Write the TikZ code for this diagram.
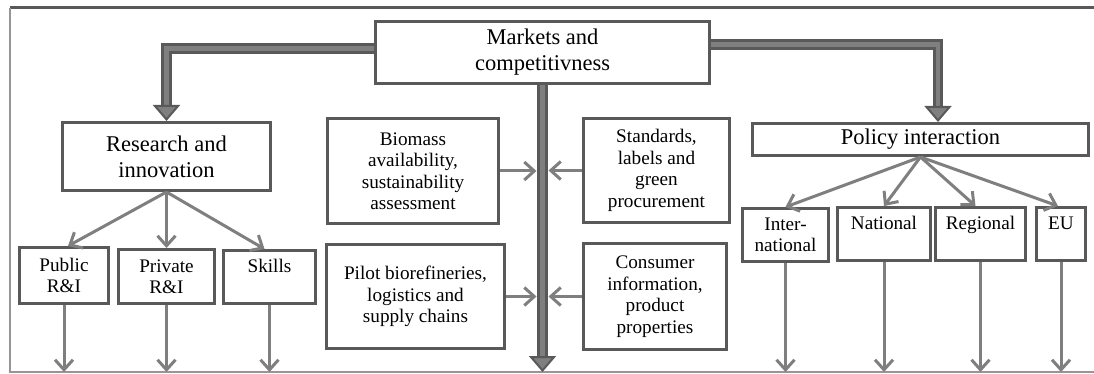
\documentclass[tikz,border=0pt]{standalone}
\usepackage{fontspec}
\setmainfont{Liberation Serif}
\usetikzlibrary{arrows.meta,positioning,calc}
\definecolor{boxGray}{RGB}{89,89,89}
\definecolor{arrowGray}{RGB}{127,127,127}
\definecolor{frameGray}{RGB}{150,150,150}
\tikzset{
  bigbox/.style={draw=boxGray, line width=3pt, fill=white, align=center, inner sep=2pt, font=\fontsize{22.5}{26}\selectfont},
  smallbox/.style={draw=boxGray, line width=3pt, fill=white, align=center, inner sep=2pt, font=\fontsize{19.2}{21.5}\selectfont},
  arrow/.style={-{Straight Barb[length=10pt,width=18pt]}, line width=3pt, draw=arrowGray},
  trunk/.style={draw=boxGray, line width=3pt, double=arrowGray, double distance=4.5pt, -{Triangle[length=16pt,width=27pt,line width=2pt,fill=arrowGray]}}
}

\begin{document}
\begin{tikzpicture}[x=1pt,y=-1pt]
  \useasboundingbox (0,0) rectangle (1094,374);
  % outer frame, open on the right
  \draw[boxGray, line width=3pt] (10,8) -- (1094,8);
  \draw[frameGray, line width=2pt] (10,8) -- (10,372) -- (1094,372);
  \coordinate (base) at (0,372);

  \node[bigbox, minimum width=334, minimum height=62] (markets) at (542.5,52.5) {Markets and\\competitivness};
  \node[bigbox, minimum width=208, minimum height=68] (research) at (166.5,156.5) {Research and\\innovation};
  \node[bigbox, minimum width=336, minimum height=32] (policy) at (920.5,139.5) {Policy interaction};

  \node[smallbox, minimum width=171, minimum height=105] (biomass) at (413,171) {Biomass\\availability,\\sustainability\\assessment};
  \node[smallbox, minimum width=178, minimum height=104] (pilot) at (415.5,296.5) {Pilot biorefineries,\\logistics and\\supply chains};
  \node[smallbox, minimum width=146, minimum height=104] (standards) at (656.5,170.5) {Standards,\\labels and\\green\\procurement};
  \node[smallbox, minimum width=143, minimum height=106] (consumer) at (655,296.5) {Consumer\\information,\\product\\properties};

  \node[smallbox, minimum width=89, minimum height=56] (public) at (64,275.5) {Public\\R\&I};
  \node[smallbox, minimum width=96, minimum height=54] (private) at (166.5,276.5) {Private\\R\&I};
  \node[smallbox, minimum width=92, minimum height=53] (skills) at (269.5,277) {Skills\\~};

  \node[smallbox, minimum width=86, minimum height=53] (intl) at (785.5,235) {Inter-\\national};
  \node[smallbox, minimum width=93, minimum height=53] (national) at (884,234) {National\\~};
  \node[smallbox, minimum width=90, minimum height=53] (regional) at (980.5,234) {Regional\\~};
  \node[smallbox, minimum width=49, minimum height=53] (eu) at (1061,234) {EU\\~};

  % thick connectors from the top box
  \draw[trunk] ([yshift=4pt]markets.west) -| (research.north);
  \draw[trunk] ([yshift=8pt]markets.east) -| ([xshift=17.5pt]policy.north);
  \draw[trunk] (markets.south) -- (markets.south |- base);

  % inputs into the central trunk
  \draw[arrow, shorten >=6pt] (biomass.east) -- (biomass.east -| markets.south);
  \draw[arrow, shorten >=6pt] (pilot.east) -- (pilot.east -| markets.south);
  \draw[arrow, shorten >=6pt] (standards.west) -- (standards.west -| markets.south);
  \draw[arrow, shorten >=6pt] (consumer.west) -- (consumer.west -| markets.south);

  \draw[arrow] (research.south) -- ([xshift=4pt]public.north);
  \draw[arrow] (research.south) -- (private.north);
  \draw[arrow] (research.south) -- ([xshift=-5pt]skills.north);

  \draw[arrow] (policy.south) -- (intl.north);
  \draw[arrow] (policy.south) -- (national.north);
  \draw[arrow] (policy.south) -- ([xshift=-5pt]regional.north);
  \draw[arrow] (policy.south) -- ([xshift=-3pt]eu.north);

  \draw[arrow] (public) -- (public |- base);
  \draw[arrow] (private) -- (private |- base);
  \draw[arrow] (skills) -- (skills |- base);
  \draw[arrow] (intl) -- (intl |- base);
  \draw[arrow] (national) -- (national |- base);
  \draw[arrow] (regional) -- (regional |- base);
  \draw[arrow] (eu) -- (eu |- base);
\end{tikzpicture}
\end{document}
